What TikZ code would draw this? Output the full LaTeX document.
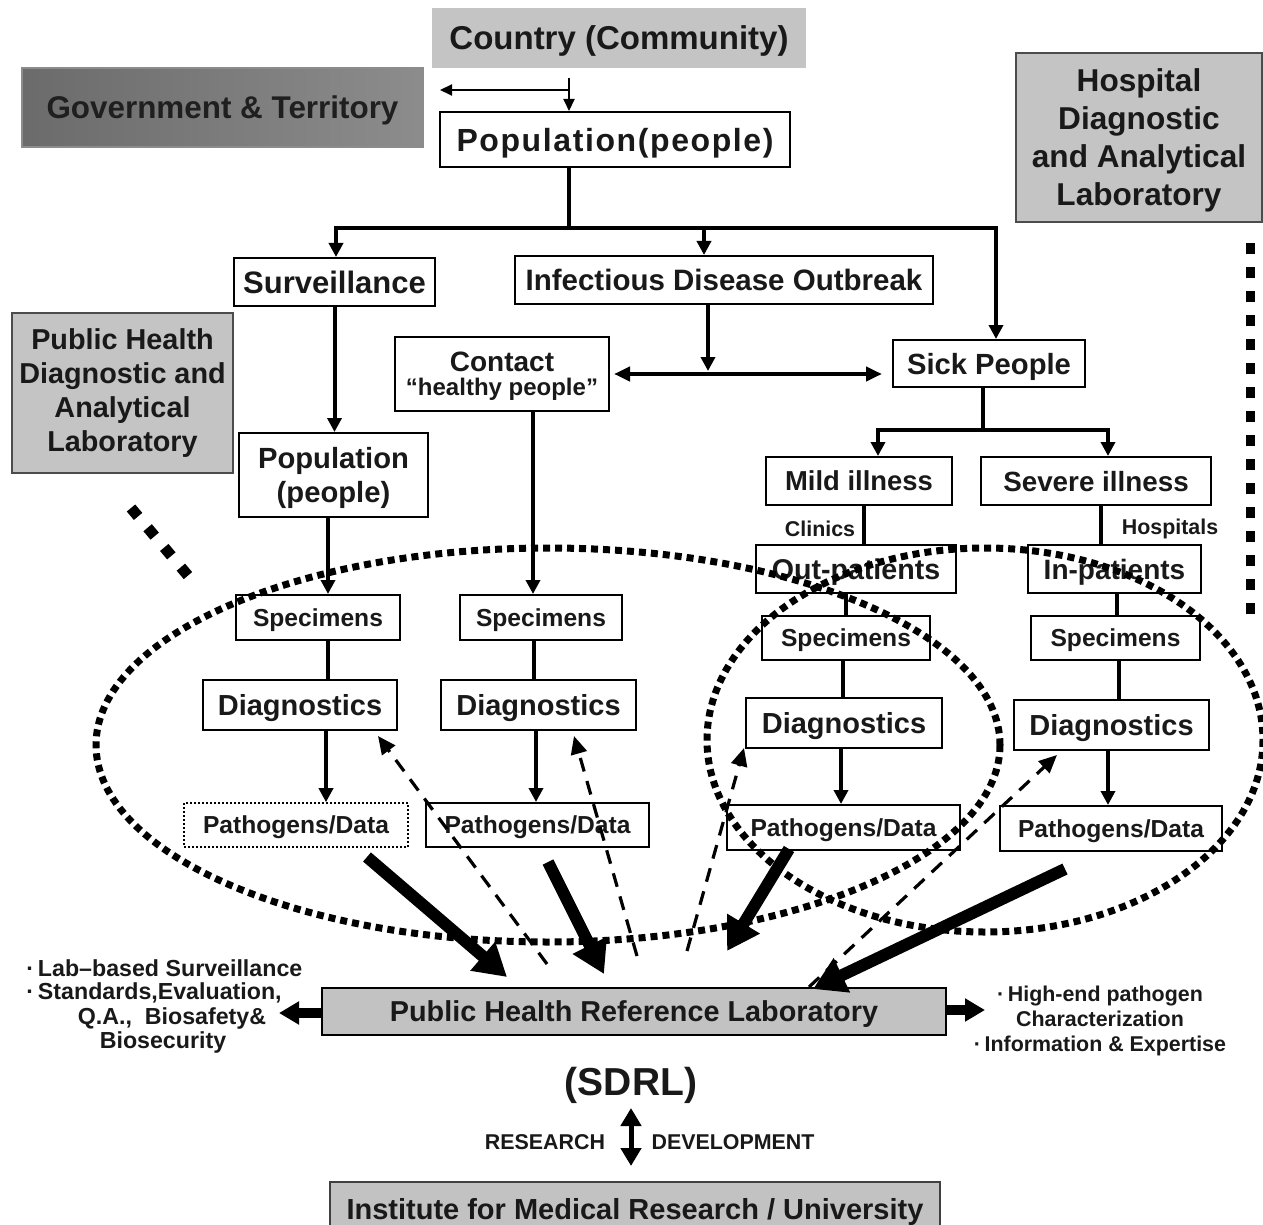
\documentclass[tikz,border=0pt]{standalone}
\usepackage{fontspec}
\setmainfont{Liberation Sans}
\usetikzlibrary{arrows.meta}
\newcommand\fsz[2]{\fontsize{#1}{#2}\selectfont}
\begin{document}
\begin{tikzpicture}[x=0.5pt,y=-0.5pt,
  box/.style={draw=black, line width=1pt, inner sep=0pt, text depth=0pt, font=\bfseries, text=black!90},
  graybox/.style={box, fill=black!23, draw=black!70},
  ln/.style={line width=2pt},
  arr/.style={line width=2pt, -{Triangle[length=7pt,width=7pt]}},
  thinarr/.style={line width=1pt, -{Triangle[length=6pt,width=5.5pt]}},
  dblarr/.style={line width=2pt, {Triangle[length=8pt,width=7pt]}-{Triangle[length=8pt,width=7pt]}},
  bigarr/.style={line width=6pt, -{Triangle[length=16pt,width=18pt]}},
  sidearr/.style={line width=5pt, -{Triangle[length=10pt,width=11pt]}},
  dasharr/.style={line width=1.6pt, dash pattern=on 7pt off 5pt, -{Triangle[length=9pt,width=8pt]}},
  dotline/.style={line width=3.5pt, dash pattern=on 3.5pt off 2.5pt},
  lbl/.style={font=\bfseries, text=black!90, inner sep=0pt}
]
\clip (0,0) rectangle (1263,1225);
\fill[white] (0,0) rectangle (1263,1225);

% ---- top ----
\node[graybox, draw=none, minimum width=187pt, minimum height=30pt, font=\bfseries\fsz{16.5}{19}] (country) at (619,38) {Country (Community)};
\node[box, draw=black!45, line width=0.6pt, left color=black!58, right color=black!45, minimum width=200.5pt, minimum height=39.5pt, font=\bfseries\fsz{15.7}{19}, text=black!88] (gov) at (222.5,107.5) {Government \& Territory};
\node[box, minimum width=175pt, minimum height=27.5pt, font=\bfseries\fsz{16}{19}\addfontfeatures{LetterSpace=5}] (pop) at (615,139.5) {Population(people)};
\node[graybox, minimum width=123pt, minimum height=84.5pt, align=center, font=\bfseries\fsz{15.8}{19}] (hosp) at (1139,137.5) {Hospital\\Diagnostic\\and Analytical\\Laboratory};

\coordinate (c1) at (569,78);
\coordinate (c2) at (569,90);
\coordinate (c3) at (440,90);
\draw[thinarr] (c1) -- (c1 |- pop.north);
\draw[thinarr] (c2) -- (c3);

% ---- second level ----
\node[box, minimum width=100.5pt, minimum height=24pt, font=\bfseries\fsz{15.5}{18}] (surv) at (334.5,282) {Surveillance};
\node[box, minimum width=209pt, minimum height=24pt, font=\bfseries\fsz{14.75}{18}] (ido) at (724,280) {Infectious Disease Outbreak};
\node[graybox, text depth=, minimum width=110.5pt, minimum height=80pt, align=center, font=\bfseries\fsz{14.4}{17}] (phdal) at (122.5,393) {Public Health\\Diagnostic and\\Analytical\\Laboratory};
\node[box, minimum width=94.5pt, minimum height=42pt, align=center, font=\bfseries\fsz{14.6}{17}] (pop2) at (333.5,475) {Population\\(people)};
\node[box, minimum width=107pt, minimum height=37pt, align=center] (contact) at (502,374) {\fsz{14}{14}Contact\\[0pt]\fsz{12}{14}“healthy people”};
\node[box, minimum width=96pt, minimum height=23.5pt, font=\bfseries\fsz{14.6}{17}] (sick) at (989,363.5) {Sick People};

\coordinate (busL) at (336,228);
\coordinate (busM) at (704,228);
\coordinate (busR) at (996,228);
\draw[ln] (pop.south -| c1) -- (c1 |- busL);
\draw[arr] (busR) -- (busL) -- (busL |- surv.north);
\draw[arr] (busL) -- (busR) -- (busR |- sick.north);
\draw[arr] (busM) -- (busM |- ido.north);

\draw[arr] (surv.south) -- (surv.south |- pop2.north);
\coordinate (hz) at (708,371);
\draw[arr] (ido.south -| hz) -- (hz);
\draw[dblarr] ([xshift=2pt]contact.east) -- ([xshift=-5pt]contact.east -| sick.west);

% ---- illness ----
\node[box, minimum width=93pt, minimum height=24pt, font=\bfseries\fsz{13.7}{16}] (mild) at (859,481) {Mild illness};
\node[box, minimum width=115pt, minimum height=24pt, font=\bfseries\fsz{13.9}{16}] (severe) at (1096,481) {Severe illness};
\coordinate (sp) at (983,430);
\coordinate (spL) at (878,430);
\coordinate (spR) at (1108,430);
\draw[ln] (sick.south -| sp) -- (sp);
\draw[arr] (spR) -- (spL) -- (spL |- mild.north);
\draw[arr] (spL) -- (spR) -- (spR |- severe.north);

\node[box, minimum width=100pt, minimum height=24pt, font=\bfseries\fsz{14.3}{16}] (outp) at (856,569) {Out-patients};
\node[box, minimum width=86.5pt, minimum height=24pt, font=\bfseries\fsz{14}{16}] (inp) at (1114.5,569) {In-patients};
\draw[ln] ([xshift=2.5pt]mild.south) -- ([xshift=2.5pt]mild.south |- outp.north);
\draw[ln] ([xshift=2.5pt]severe.south) -- ([xshift=2.5pt]severe.south |- inp.north);
\node[lbl, font=\bfseries\fsz{10.7}{12}] (clin) at (820,529) {Clinics};
\node[lbl, font=\bfseries\fsz{10.7}{12}] (hosl) at (1170,529) {Hospitals};

% ---- specimens ----
\node[box, minimum width=82pt, minimum height=22.5pt, font=\bfseries\fsz{12.3}{14}] (spec1) at (318,617.5) {Specimens};
\node[box, minimum width=81pt, minimum height=22.5pt, font=\bfseries\fsz{12.3}{14}] (spec2) at (541,617.5) {Specimens};
\node[box, minimum width=84pt, minimum height=22pt, font=\bfseries\fsz{12.3}{14}] (spec3) at (846,638) {Specimens};
\node[box, minimum width=84.5pt, minimum height=22pt, font=\bfseries\fsz{12.3}{14}] (spec4) at (1115.5,638) {Specimens};

\draw[arr] ([xshift=-2.75pt]pop2.south) -- ([xshift=-2.75pt]pop2.south |- spec1.north);
\draw[arr] ([xshift=15.5pt]contact.south) -- ([xshift=15.5pt]contact.south |- spec2.north);
\draw[ln] ([xshift=-5pt]outp.south) -- ([xshift=-5pt]outp.south |- spec3.north);
\draw[ln] ([xshift=1.25pt]inp.south) -- ([xshift=1.25pt]inp.south |- spec4.north);

% ---- diagnostics ----
\node[box, minimum width=97pt, minimum height=25pt, font=\bfseries\fsz{14.5}{16}] (diag1) at (300,705) {Diagnostics};
\node[box, minimum width=97.5pt, minimum height=25pt, font=\bfseries\fsz{14.5}{16}] (diag2) at (538.5,705) {Diagnostics};
\node[box, minimum width=98pt, minimum height=25pt, font=\bfseries\fsz{14.5}{16}] (diag3) at (844,723) {Diagnostics};
\node[box, minimum width=97.5pt, minimum height=25pt, font=\bfseries\fsz{14.5}{16}] (diag4) at (1111.5,725) {Diagnostics};

\draw[ln] ([xshift=5pt]spec1.south) -- ([xshift=5pt]spec1.south |- diag1.north);
\draw[ln] ([xshift=-3.5pt]spec2.south) -- ([xshift=-3.5pt]spec2.south |- diag2.north);
\draw[ln] ([xshift=-1.5pt]spec3.south) -- ([xshift=-1.5pt]spec3.south |- diag3.north);
\draw[ln] ([xshift=1.75pt]spec4.south) -- ([xshift=1.75pt]spec4.south |- diag4.north);

% ---- pathogens ----
\node[box, line width=0.8pt, dash pattern=on 1pt off 1pt, minimum width=112pt, minimum height=22pt, font=\bfseries\fsz{12.3}{14}] (path1) at (296,825) {Pathogens/Data};
\node[box, minimum width=111.5pt, minimum height=22pt, font=\bfseries\fsz{12.3}{14}] (path2) at (537.5,825) {Pathogens/Data};
\node[box, minimum width=116.5pt, minimum height=22.5pt, font=\bfseries\fsz{12.3}{14}] (path3) at (843.5,827.5) {Pathogens/Data};
\node[box, minimum width=111pt, minimum height=22.5pt, font=\bfseries\fsz{12.3}{14}] (path4) at (1111,828.5) {Pathogens/Data};

\draw[arr] ([xshift=13pt]diag1.south) -- ([xshift=13pt]diag1.south |- path1.north);
\draw[arr] ([xshift=-1.25pt]diag2.south) -- ([xshift=-1.25pt]diag2.south |- path2.north);
\draw[arr] ([xshift=-1.5pt]diag3.south) -- ([xshift=-1.5pt]diag3.south |- path3.north);
\draw[arr] ([xshift=-1.75pt]diag4.south) -- ([xshift=-1.75pt]diag4.south |- path4.north);

% ---- dotted groupings ----
\draw[dotline] (548,745) ellipse [x radius=452, y radius=197];
\draw[dotline] (985,740) ellipse [x radius=278, y radius=192];
\coordinate (dmA) at (131,508);
\coordinate (dmB) at (190,578);
\draw[line width=5.5pt, dash pattern=on 5.5pt off 7.4pt] (dmA) -- (dmB);
\coordinate (vdA) at (1250,243);
\coordinate (vdB) at (1250,615);
\draw[line width=4.5pt, dash pattern=on 5.5pt off 6.5pt] (vdA) -- (vdB);

% ---- reference lab ----
\node[box, fill=black!24, minimum width=312pt, minimum height=23.5pt, font=\bfseries\fsz{14.4}{17}] (phrl) at (634,1011.5) {Public Health Reference Laboratory};

\coordinate (t1a) at (367,857); \coordinate (t1b) at (507,977);
\coordinate (t2a) at (548,862); \coordinate (t2b) at (604,974);
\coordinate (t3a) at (789,849); \coordinate (t3b) at (727,951);
\coordinate (t4a) at (1065,869); \coordinate (t4b) at (813,989);
\draw[bigarr] (t1a) -- (t1b);
\draw[bigarr] (t2a) -- (t2b);
\draw[bigarr] (t3a) -- (t3b);
\draw[bigarr] (t4a) -- (t4b);

\coordinate (d1a) at (547,964); \coordinate (d1b) at (378,736);
\coordinate (d2a) at (637,956); \coordinate (d2b) at (574,736);
\coordinate (d3a) at (687,951); \coordinate (d3b) at (744,748);
\coordinate (d4a) at (809,987); \coordinate (d4b) at (1057,755);
\draw[dasharr] (d1a) -- (d1b);
\draw[dasharr] (d2a) -- (d2b);
\draw[dasharr] (d3a) -- (d3b);
\draw[dasharr] (d4a) -- (d4b);

\draw[sidearr] ([yshift=-0.75pt]phrl.west) -- ([xshift=-21pt,yshift=-0.75pt]phrl.west);
\draw[sidearr] ([yshift=0.75pt]phrl.east) -- ([xshift=19pt,yshift=0.75pt]phrl.east);

\node[lbl, anchor=west, font=\bfseries\fsz{11.6}{13}] (l1) at (26,968) {·\,Lab–based Surveillance};
\node[lbl, anchor=west, font=\bfseries\fsz{11.6}{13}] (l2) at (26,993) {·\,Standards,Evaluation,};
\node[lbl, font=\bfseries\fsz{11.6}{13}] (l3) at (172,1018) {Q.A.,\ \ Biosafety\&};
\node[lbl, font=\bfseries\fsz{11.6}{13}] (l4) at (163,1042) {Biosecurity};

\node[lbl, align=center, font=\bfseries\fsz{10.7}{12.7}] (rl) at (1100,1021) {·\,High-end pathogen\\Characterization\\·\,Information \& Expertise};

% ---- SDRL ----
\node[lbl, font=\bfseries\fsz{19.5}{22}] (sdrl) at (631,1085) {(SDRL)};
\coordinate (s1) at (631,1108);
\coordinate (s2) at (631,1166);
\draw[line width=2.5pt, {Triangle[length=9pt,width=10pt]}-{Triangle[length=9pt,width=10pt]}] (s1) -- (s2);
\node[lbl, font=\bfseries\fsz{10.7}{12}] (res) at (545,1142) {RESEARCH};
\node[lbl, font=\bfseries\fsz{10.7}{12}] (dev) at (733,1142) {DEVELOPMENT};

\node[box, fill=black!24, draw=black!75, minimum width=305pt, minimum height=26.5pt, font=\bfseries\fsz{14.5}{17}] (inst) at (635,1208.5) {Institute for Medical Research / University};
\end{tikzpicture}
\end{document}
